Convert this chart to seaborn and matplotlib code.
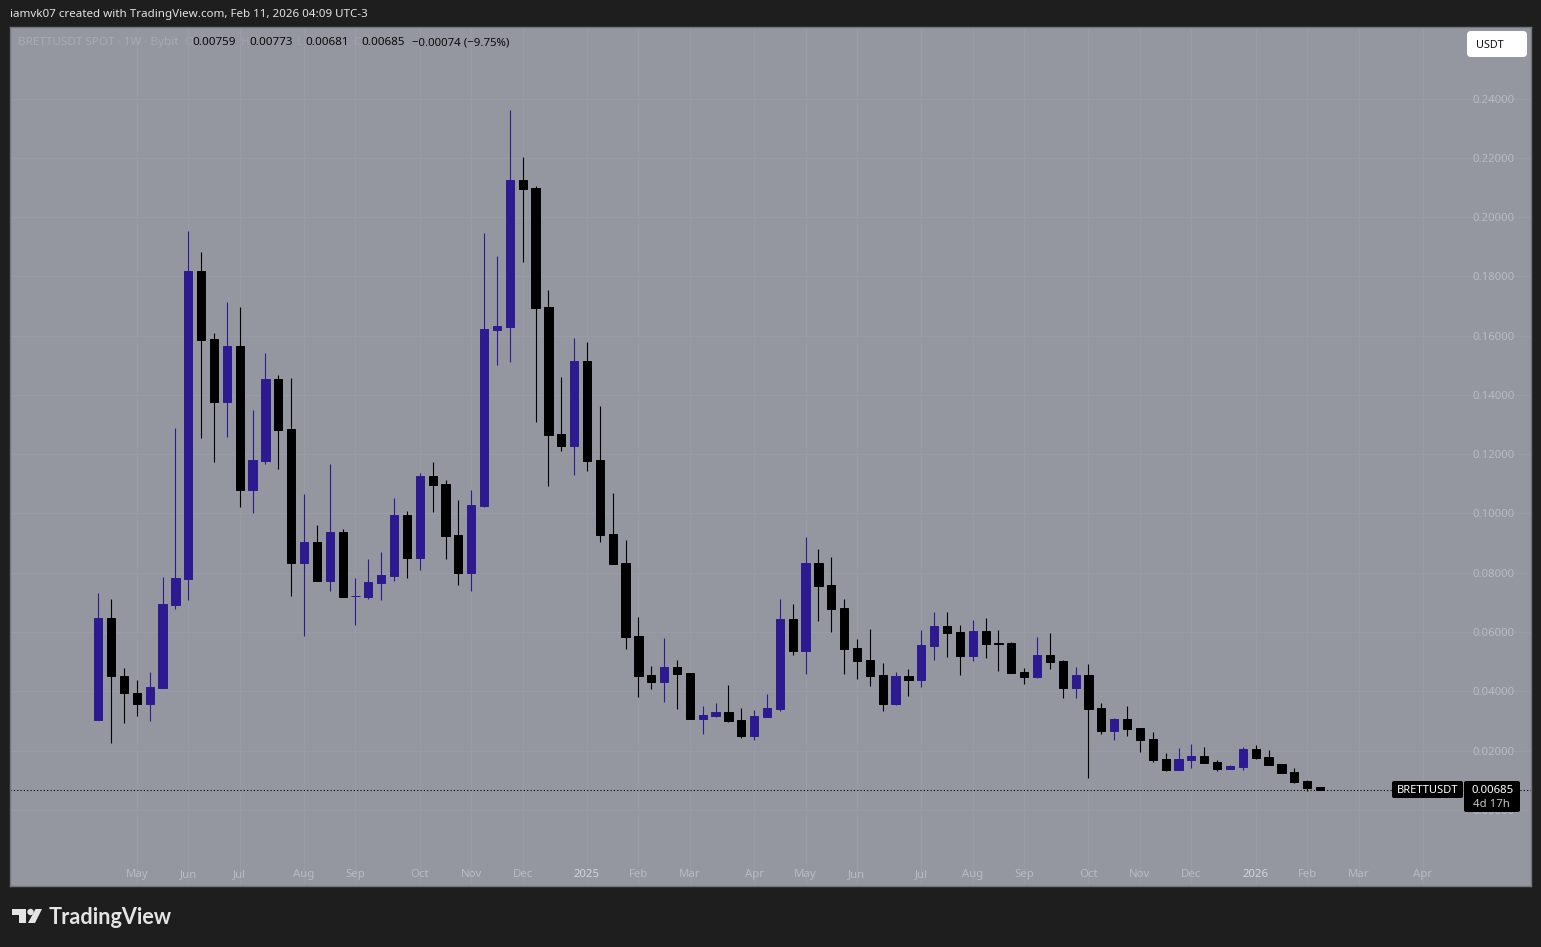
"""
BRETTUSDT weekly candles, TradingView snapshot look.
"""
import numpy as np
import pandas as pd
import matplotlib
matplotlib.use("Agg")
import matplotlib.pyplot as plt
from matplotlib.patches import FancyBboxPatch, Polygon, Circle
import seaborn as sns

open_ = [0.03030, 0.06472, 0.04525, 0.03941, 0.03570, 0.04110, 0.06911, 0.07788, 0.18181, 0.15887, 0.13761, 0.15650,
         0.10791, 0.11770, 0.14537, 0.12850, 0.08328, 0.09037, 0.07721, 0.09374, 0.07198, 0.07181, 0.07653, 0.07889,
         0.09948, 0.08497, 0.11264, 0.10994, 0.09273, 0.07991, 0.10251, 0.16190, 0.16292, 0.21252, 0.20982, 0.16966,
         0.12681, 0.12276, 0.15144, 0.11804, 0.09307, 0.08328, 0.05865, 0.04549, 0.04312, 0.04819, 0.04616, 0.03064,
         0.03165, 0.03300, 0.03030, 0.02490, 0.03131, 0.03401, 0.06438, 0.05359, 0.08328, 0.07586, 0.06809, 0.05460,
         0.05055, 0.04549, 0.03570, 0.04515, 0.04380, 0.05527, 0.06202, 0.06000, 0.05190, 0.06033, 0.05612, 0.05629,
         0.04650, 0.04481, 0.05224, 0.05021, 0.04110, 0.04549, 0.03435, 0.02659, 0.03064, 0.02760, 0.02389, 0.01714,
         0.01343, 0.01680, 0.01815, 0.01613, 0.01377, 0.01444, 0.02052, 0.01782, 0.01545, 0.01276, 0.00972, 0.00759]
high = [0.07316, 0.07113, 0.04785, 0.04380, 0.04650, 0.07856, 0.12884, 0.19531, 0.18822, 0.16089, 0.17135, 0.16966,
        0.13491, 0.15414, 0.14672, 0.14571, 0.10656, 0.09610, 0.11669, 0.09475, 0.07822, 0.08463, 0.08699, 0.10521,
        0.10083, 0.11365, 0.11736, 0.11129, 0.10454, 0.10791, 0.19464, 0.18687, 0.23614, 0.22028, 0.21049, 0.17540,
        0.14604, 0.15920, 0.15785, 0.13626, 0.10690, 0.09104, 0.06506, 0.04852, 0.05797, 0.05055, 0.04616, 0.03503,
        0.03604, 0.04211, 0.03435, 0.03368, 0.03908, 0.07113, 0.06944, 0.09205, 0.08800, 0.08530, 0.07113, 0.05763,
        0.06101, 0.04954, 0.04650, 0.04751, 0.06067, 0.06675, 0.06675, 0.06236, 0.06405, 0.06472, 0.06067, 0.05662,
        0.04785, 0.05831, 0.05966, 0.05055, 0.04819, 0.04920, 0.03604, 0.03098, 0.03503, 0.02760, 0.02625, 0.01917,
        0.02085, 0.02220, 0.02119, 0.01680, 0.01512, 0.02119, 0.02187, 0.02018, 0.01545, 0.01410, 0.01006, 0.00773]
low = [0.03030, 0.02254, 0.02929, 0.03165, 0.02996, 0.04110, 0.06776, 0.07080, 0.12546, 0.11736, 0.12580, 0.10218,
       0.10015, 0.11669, 0.11500, 0.07214, 0.05865, 0.07721, 0.07383, 0.07181, 0.06236, 0.07113, 0.07080, 0.07721,
       0.07822, 0.08092, 0.10049, 0.08463, 0.07586, 0.07383, 0.10218, 0.15009, 0.15111, 0.18485, 0.13086, 0.10926,
       0.12107, 0.11297, 0.11432, 0.09037, 0.08294, 0.05426, 0.03806, 0.04076, 0.03638, 0.03401, 0.03064, 0.02558,
       0.03131, 0.02963, 0.02423, 0.02355, 0.03131, 0.03334, 0.05224, 0.04582, 0.06371, 0.06000, 0.04582, 0.04414,
       0.04178, 0.03334, 0.03536, 0.03840, 0.04144, 0.05055, 0.05156, 0.04549, 0.05021, 0.05122, 0.04684, 0.04616,
       0.04245, 0.04447, 0.04751, 0.03773, 0.03773, 0.01073, 0.02558, 0.02355, 0.02490, 0.01950, 0.01613, 0.01309,
       0.01343, 0.01410, 0.01579, 0.01309, 0.01377, 0.01343, 0.01714, 0.01512, 0.01242, 0.00904, 0.00634, 0.00681]
close = [0.06472, 0.04525, 0.03941, 0.03570, 0.04144, 0.06944, 0.07822, 0.18181, 0.15853, 0.13761, 0.15650, 0.10791,
         0.11804, 0.14537, 0.12816, 0.08328, 0.09037, 0.07721, 0.09374, 0.07181, 0.07214, 0.07687, 0.07923, 0.09948,
         0.08497, 0.11264, 0.10960, 0.09239, 0.07991, 0.10285, 0.16224, 0.16325, 0.21252, 0.20948, 0.16933, 0.12647,
         0.12276, 0.15144, 0.11770, 0.09273, 0.08294, 0.05831, 0.04515, 0.04312, 0.04819, 0.04582, 0.03064, 0.03199,
         0.03300, 0.02996, 0.02490, 0.03165, 0.03435, 0.06438, 0.05359, 0.08328, 0.07552, 0.06776, 0.05426, 0.05021,
         0.04515, 0.03570, 0.04515, 0.04380, 0.05561, 0.06202, 0.05966, 0.05190, 0.06033, 0.05595, 0.05595, 0.04616,
         0.04481, 0.05224, 0.04987, 0.04110, 0.04549, 0.03401, 0.02659, 0.03064, 0.02727, 0.02355, 0.01680, 0.01343,
         0.01714, 0.01815, 0.01579, 0.01377, 0.01478, 0.02052, 0.01748, 0.01512, 0.01242, 0.00938, 0.00736, 0.00685]

month_pos = [3, 7, 11, 16, 20, 25, 29, 33, 38, 42, 46, 51, 55, 59, 64, 68, 72, 77, 81, 85, 90, 94, 98, 103]
month_labels = ["May", "Jun", "Jul", "Aug", "Sep", "Oct", "Nov", "Dec", "2025", "Feb", "Mar", "Apr", "May", "Jun",
                "Jul", "Aug", "Sep", "Oct", "Nov", "Dec", "2026", "Feb", "Mar", "Apr"]
price_ticks = [0.0, 0.02, 0.04, 0.06, 0.08, 0.10, 0.12, 0.14, 0.16, 0.18, 0.20, 0.22, 0.24]

BG = "#1e1e1e"
PANEL = "#94979f"
GRID = "#999ca4"
UP = "#2d1a91"
DOWN = "#000000"
AXTEXT = "#b9bbc2"
W, H = 1541, 947

sns.set_theme(style="white")
plt.rcParams["font.family"] = ["Noto Sans", "DejaVu Sans"]

df = pd.DataFrame({"i": np.arange(len(close)), "open": open_, "high": high, "low": low, "close": close})
df["up"] = df["close"] >= df["open"]
df["body_low"] = df[["open", "close"]].min(axis=1)
df["body_h"] = (df["close"] - df["open"]).abs()

fig = plt.figure(figsize=(W / 100, H / 100), dpi=100, facecolor=BG)
ax = fig.add_axes([10 / W, 1 - 886 / H, 1521 / W, 859 / H], facecolor=PANEL)

ax.vlines(df.loc[df.up, "i"], df.loc[df.up, "low"], df.loc[df.up, "high"], color=UP, lw=0.8, zorder=3)
ax.vlines(df.loc[~df.up, "i"], df.loc[~df.up, "low"], df.loc[~df.up, "high"], color=DOWN, lw=0.8, zorder=3)
for part, col in [(df[df.up], UP), (df[~df.up], DOWN)]:
    sns.barplot(data=part, x="i", y="body_h", bottom=part["body_low"].values, native_scale=True,
                color=col, saturation=1, width=0.64, errorbar=None, edgecolor=col, linewidth=0.7,
                zorder=4, ax=ax)

ax.axhline(close[-1], color="#000000", lw=0.8, ls=(0, (1, 2)), zorder=2)

ax.set_xlim(-6.866, 111.41)
ax.set_ylim(-0.02571, 0.26415)
ax.set_xlabel("")
ax.set_ylabel("")
ax.set_xticks(month_pos, month_labels)
ax.yaxis.tick_right()
ax.set_yticks(price_ticks, [f"{v:.5f}" for v in price_ticks])
ax.tick_params(axis="x", length=0, pad=-12.5, labelsize=8.2, colors=AXTEXT)
ax.tick_params(axis="y", length=0, pad=-42, labelsize=8.2, colors=AXTEXT)
for lab in ax.get_xticklabels():
    if lab.get_text() in ("2025", "2026"):
        lab.set_fontweight("bold")
        lab.set_color("#d3d5da")
ax.grid(True, color=GRID, lw=0.8, zorder=0)
ax.set_axisbelow(True)
for s in ax.spines.values():
    s.set_color("#74767c")
    s.set_linewidth(1)

# overlay in pixel coordinates for the TradingView furniture
ov = fig.add_axes([0, 0, 1, 1], facecolor="none")
ov.set_xlim(0, W)
ov.set_ylim(H, 0)
ov.axis("off")

ov.text(10, 14, "iamvk07 created with TradingView.com, Feb 11, 2026 04:09 UTC-3", color="#e2e2e2",
        fontsize=8.35, va="center", ha="left", fontweight="medium")
ov.text(18, 42.5, "BRETTUSDT SPOT · 1W · Bybit", color="#a9abb3", fontsize=8.4, va="center")
for x, letter, val in [(184, "O", "0.00759"), (241, "H", "0.00773"), (297, "L", "0.00681"), (353, "C", "0.00685")]:
    ov.text(x, 42.5, letter, color="#a0a2aa", fontsize=8.4, va="center")
    ov.text(x + 8, 42.5, val, color="#0a0a0a", fontsize=8.4, va="center")
ov.text(412, 42.5, "−0.00074 (−9.75%)", color="#0a0a0a", fontsize=8.2, va="center")

ov.add_patch(FancyBboxPatch((1470, 34), 54, 20, boxstyle="round,pad=3,rounding_size=4", fc="white", ec="none"))
ov.text(1476, 45, "USDT", color="#111111", fontsize=7.8, va="center")

ov.add_patch(FancyBboxPatch((1393, 782), 69, 15, boxstyle="round,pad=1,rounding_size=2", fc="black", ec="none", zorder=5))
ov.add_patch(FancyBboxPatch((1465, 782), 54, 29, boxstyle="round,pad=1,rounding_size=2", fc="black", ec="none", zorder=5))
ov.text(1427.5, 790, "BRETTUSDT", color="white", fontsize=8, va="center", ha="center", fontweight="medium", zorder=6)
ov.text(1493, 790, "0.00685", color="white", fontsize=8.2, va="center", ha="center", fontweight="medium", zorder=6)
ov.text(1491, 804, "4d 17h", color="#c4c4c4", fontsize=8.2, va="center", ha="center", zorder=6)

ov.add_patch(Polygon([(12, 909), (26, 909), (26, 923), (19, 923), (19, 915), (12, 915)], fc="#e4e4e4", ec="none"))
ov.add_patch(Circle((30.5, 912), 3.2, fc="#e4e4e4", ec="none"))
ov.add_patch(Polygon([(35.5, 909), (42, 909), (35, 923), (28, 923)], fc="#e4e4e4", ec="none"))
ov.text(49, 917, "TradingView", color="#e4e4e4", fontsize=15.6, va="center", ha="left", fontweight="bold",
        family="Lato")

fig.savefig("out.png", dpi=100, facecolor=BG)
